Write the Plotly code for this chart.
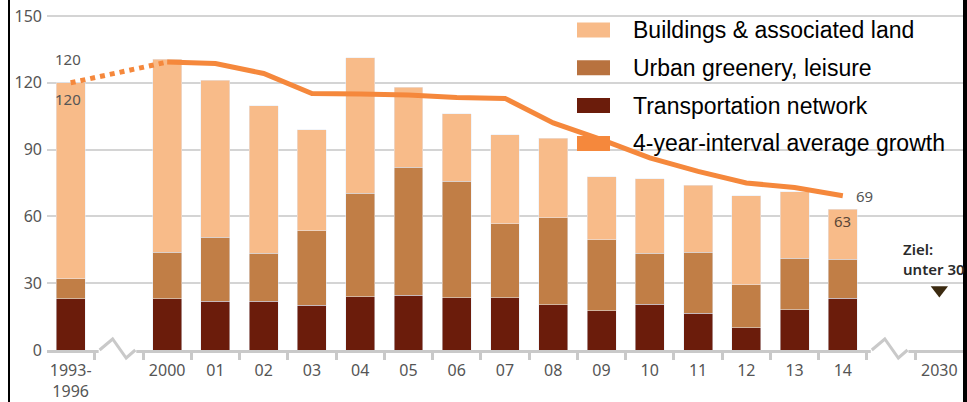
import plotly.graph_objects as go

# Flaechenverbrauch, stacked by use type
years = ["1993-<br>1996", "2000", "01", "02", "03", "04", "05", "06", "07",
         "08", "09", "10", "11", "12", "13", "14"]
transport = [23, 23, 22, 22, 20, 24, 24.5, 23.5, 23.5, 20.3, 17.7, 20.6, 16.5, 10, 18, 23.3]
greenery = [9, 21, 28.7, 21.5, 33.6, 46.5, 57.5, 52.4, 33.2, 39.2, 31.8, 22.9, 27.5, 19.4, 23.3, 17.5]
buildings = [88, 86.5, 70.5, 66.3, 45.4, 60.7, 35.9, 30.1, 39.9, 35.5, 28.2, 33.5, 30, 39.9, 29.7, 22.5]
avg_growth = [120, 129.3, 128.7, 124.2, 115.2, 115, 114.5, 113.4, 113, 102, 94.5, 86.3, 80.2, 75, 73, 69.3]

target_year = ["2030"]
target_marker = [27]
target_goal = 30

legend_names = ["Buildings & associated land", "Urban greenery, leisure",
                "Transportation network", "4-year-interval average growth"]

# axis categories incl. two empty slots for the axis breaks
categories = [years[0], " "] + years[1:] + ["  ", target_year[0]]

C_BUILD = "#f8bb89"
C_GREEN = "#c17e46"
C_TRANS = "#6b1c0b"
C_LINE = "#f5883c"
GRID = "#d4d4d4"
AXIS = "#c9c9c9"
TXT = "#555555"

W, H = 967, 402
L, R, T, B = 47, 4, 12, 52


def px_x(px):
    return (px - L) / (W - L - R)


def px_y(py):
    return (H - B - py) / (H - T - B)


def cat(label):
    # numeric-looking labels ("01", "2030") must be given as index in annotations
    return categories.index(label)


totals = [a + b + c for a, b, c in zip(transport, greenery, buildings)]

fig = go.Figure()
fig.add_trace(go.Bar(x=years, y=transport, marker_color=C_TRANS, name=legend_names[2]))
fig.add_trace(go.Bar(x=years, y=greenery, marker_color=C_GREEN, name=legend_names[1]))
fig.add_trace(go.Bar(x=years, y=buildings, marker_color=C_BUILD, name=legend_names[0]))

# dotted link from the first period, then the solid average line
fig.add_trace(go.Scatter(x=years[:2], y=avg_growth[:2], mode="lines",
                         line=dict(color=C_LINE, width=5, dash="dot")))
fig.add_trace(go.Scatter(x=years[1:], y=avg_growth[1:], mode="lines",
                         line=dict(color=C_LINE, width=5), name=legend_names[3]))

fig.add_trace(go.Scatter(x=target_year, y=target_marker, mode="markers",
                         marker=dict(symbol="triangle-down", size=15, color="#3b2a10")))

shapes = []
# axis breaks (zigzag)
for c in [1, 17]:
    shapes.append(dict(type="line", xref="x", yref="paper", x0=c - 0.42, x1=c + 0.36,
                       y0=0, y1=0, line=dict(color="white", width=6), layer="above"))
    shapes.append(dict(type="path", xref="x", yref="paper",
                       path=f"M {c - 0.40},0 L {c - 0.13},{px_y(339)} L {c + 0.15},{px_y(358)} L {c + 0.34},0",
                       line=dict(color=AXIS, width=3), layer="above"))

# frame lines from the original screenshot
shapes.append(dict(type="line", xref="paper", yref="paper", x0=px_x(9), x1=px_x(9),
                   y0=-0.3, y1=1.2, line=dict(color="black", width=2)))
shapes.append(dict(type="line", xref="paper", yref="paper", x0=px_x(965), x1=px_x(965),
                   y0=-0.3, y1=1.2, line=dict(color="black", width=4)))

annotations = []
# manual legend with wide swatches
leg_cols = [C_BUILD, "#b8723f", C_TRANS, C_LINE]
for i, (name, col) in enumerate(zip(legend_names, leg_cols)):
    cy = 30 + i * 37.8
    shapes.append(dict(type="rect", xref="paper", yref="paper",
                       x0=px_x(577), x1=px_x(610), y0=px_y(cy + 7.5), y1=px_y(cy - 7.5),
                       fillcolor=col, line=dict(width=0), layer="above"))
    annotations.append(dict(xref="paper", yref="paper", x=px_x(631), y=px_y(cy),
                            xanchor="left", yanchor="middle", showarrow=False, text=name,
                            font=dict(family="Liberation Sans, Arial", size=23, color="black")))

lab_font = dict(family="Noto Sans", size=15, color=TXT)
annotations += [
    dict(x=cat(years[0]), y=avg_growth[0], text=f"{avg_growth[0]:.0f}", showarrow=False,
         xshift=-3, yshift=24, font=lab_font),
    dict(x=cat(years[0]), y=totals[0], text=f"{totals[0]:.0f}", showarrow=False,
         xshift=-3, yshift=-16, font=lab_font),
    dict(x=cat(years[-1]), y=avg_growth[-1], text=f"{avg_growth[-1]:.0f}", showarrow=False,
         xshift=22, font=lab_font),
    dict(x=cat(years[-1]), y=totals[-1], text=f"{totals[-1]:.0f}", showarrow=False,
         yshift=-12, font=dict(family="Noto Sans", size=15, color="#5b4636")),
    dict(x=cat(target_year[0]), y=target_goal, text=f"Ziel:<br>unter {target_goal}",
         showarrow=False, xanchor="left", yanchor="bottom", align="left",
         xshift=-38, yshift=2,
         font=dict(family="Noto Sans", size=15, color="#2a2a2a", weight=600)),
]

fig.update_layout(
    width=W, height=H,
    margin=dict(l=L, r=R, t=T, b=B),
    barmode="stack", bargap=0.4,
    showlegend=False,
    plot_bgcolor="white", paper_bgcolor="white",
    shapes=shapes, annotations=annotations,
    xaxis=dict(type="category", categoryorder="array", categoryarray=categories,
               range=[-0.49, 18.49], showgrid=False, automargin=False, tickangle=0,
               showline=True, linecolor=AXIS, linewidth=3,
               ticks="outside", tickson="boundaries", ticklen=7, tickwidth=3, tickcolor=AXIS,
               ticklabelstandoff=4,
               tickfont=dict(family="Noto Sans", size=16, color=TXT)),
    yaxis=dict(range=[0, 151.8], tickvals=[0, 30, 60, 90, 120, 150], automargin=False,
               showgrid=True, gridcolor=GRID, gridwidth=2, zeroline=False,
               showline=False, ticks="", ticklabelstandoff=4,
               tickfont=dict(family="Noto Sans", size=16, color=TXT)),
)

# the page's default 8px body margin would push the figure off the window
fig.write_html("out.html", config={"displayModeBar": False},
               post_script="document.body.style.margin='0';document.body.style.overflow='hidden';")
